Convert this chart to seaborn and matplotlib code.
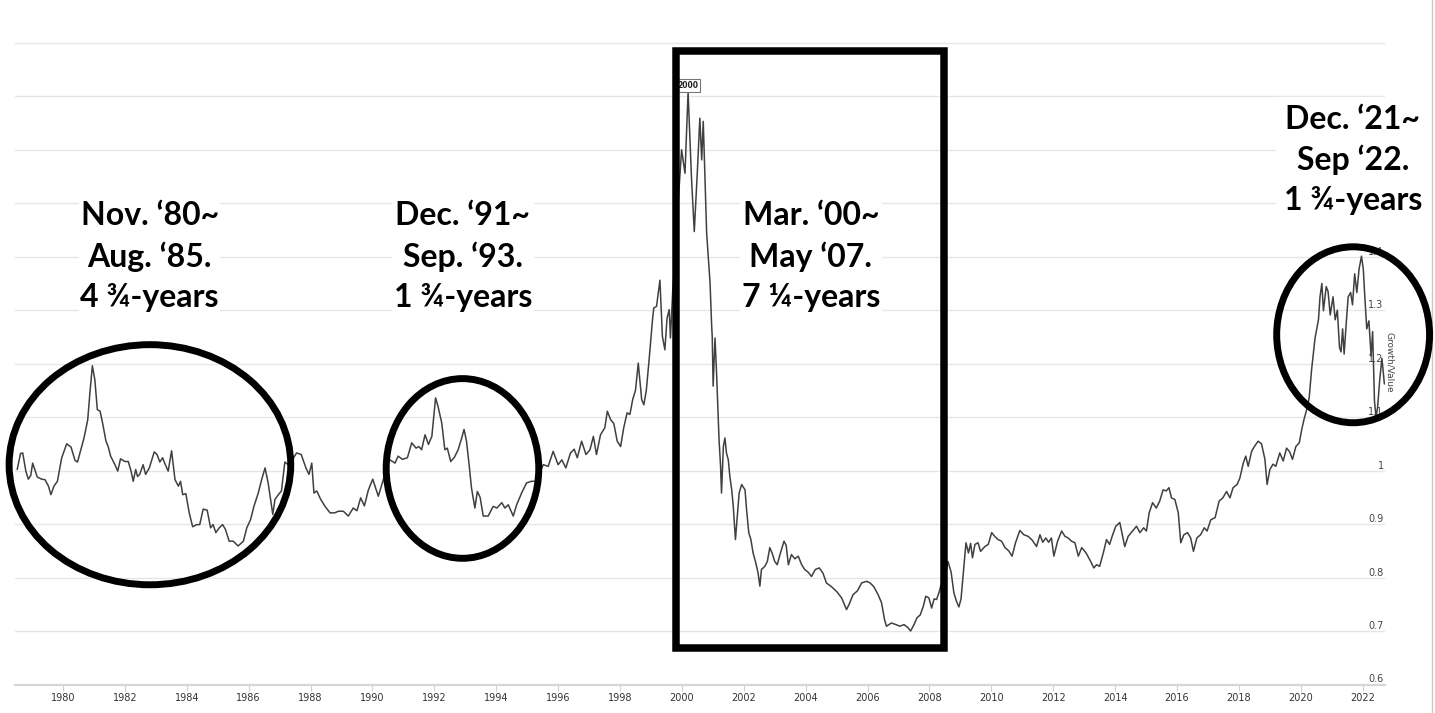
import matplotlib
matplotlib.use("Agg")
import matplotlib.pyplot as plt
from matplotlib.patches import Ellipse, Rectangle
from matplotlib.lines import Line2D
import seaborn as sns
import pandas as pd
import numpy as np

# Growth / Value ratio (decimal years)
years = [
    1978.52, 1978.63, 1978.70, 1978.80, 1978.88, 1978.96, 1979.02, 1979.17, 1979.31, 1979.42,
    1979.53, 1979.61, 1979.71, 1979.82, 1979.96, 1980.12, 1980.26, 1980.39, 1980.47, 1980.55,
    1980.68, 1980.80, 1980.87, 1980.95, 1981.03, 1981.11, 1981.20, 1981.28, 1981.39, 1981.46,
    1981.54, 1981.68, 1981.77, 1981.86, 1982.00, 1982.11, 1982.20, 1982.27, 1982.35, 1982.41,
    1982.48, 1982.59, 1982.67, 1982.79, 1982.95, 1983.04, 1983.13, 1983.22, 1983.30, 1983.40,
    1983.51, 1983.62, 1983.73, 1983.80, 1983.87, 1983.97, 1984.08, 1984.19, 1984.32, 1984.42,
    1984.53, 1984.66, 1984.77, 1984.85, 1984.94, 1985.05, 1985.16, 1985.25, 1985.37, 1985.50,
    1985.66, 1985.83, 1985.94, 1986.06, 1986.17, 1986.31, 1986.42, 1986.53, 1986.63, 1986.78,
    1986.85, 1986.96, 1987.06, 1987.17, 1987.30, 1987.55, 1987.70, 1987.85, 1987.95, 1988.04,
    1988.11, 1988.20, 1988.33, 1988.47, 1988.63, 1988.78, 1988.90, 1989.06, 1989.22, 1989.38,
    1989.50, 1989.62, 1989.74, 1989.87, 1990.01, 1990.19, 1990.35, 1990.54, 1990.73, 1990.83,
    1990.97, 1991.13, 1991.27, 1991.41, 1991.50, 1991.59, 1991.70, 1991.81, 1991.92, 1992.04,
    1992.12, 1992.24, 1992.34, 1992.42, 1992.53, 1992.65, 1992.77, 1992.88, 1992.96, 1993.04,
    1993.13, 1993.20, 1993.31, 1993.39, 1993.48, 1993.58, 1993.74, 1993.90, 1994.02, 1994.18,
    1994.28, 1994.39, 1994.55, 1994.66, 1994.82, 1994.98, 1995.14, 1995.28, 1995.40, 1995.52,
    1995.68, 1995.84, 1996.00, 1996.12, 1996.25, 1996.40, 1996.52, 1996.62, 1996.76, 1996.90,
    1997.03, 1997.14, 1997.24, 1997.37, 1997.51, 1997.59, 1997.70, 1997.80, 1997.91, 1998.02,
    1998.12, 1998.23, 1998.32, 1998.41, 1998.50, 1998.59, 1998.70, 1998.77, 1998.85, 1998.94,
    1999.05, 1999.09, 1999.18, 1999.29, 1999.37, 1999.45, 1999.52, 1999.59, 1999.63, 1999.70,
    1999.80, 1999.90, 1999.99, 2000.10, 2000.20, 2000.31, 2000.40, 2000.50, 2000.58, 2000.64,
    2000.69, 2000.75, 2000.80, 2000.91, 2000.96, 2000.98, 2001.01, 2001.07, 2001.12, 2001.20,
    2001.25, 2001.28, 2001.34, 2001.39, 2001.44, 2001.50, 2001.55, 2001.61, 2001.66, 2001.73,
    2001.79, 2001.85, 2001.93, 2002.04, 2002.09, 2002.16, 2002.23, 2002.30, 2002.39, 2002.46,
    2002.52, 2002.57, 2002.68, 2002.76, 2002.84, 2002.92, 2003.00, 2003.08, 2003.18, 2003.30,
    2003.37, 2003.44, 2003.54, 2003.65, 2003.76, 2003.87, 2003.97, 2004.08, 2004.19, 2004.31,
    2004.44, 2004.56, 2004.67, 2004.83, 2005.00, 2005.16, 2005.32, 2005.42, 2005.53, 2005.67,
    2005.81, 2005.97, 2006.08, 2006.20, 2006.34, 2006.45, 2006.55, 2006.61, 2006.77, 2006.92,
    2007.04, 2007.18, 2007.31, 2007.39, 2007.50, 2007.60, 2007.70, 2007.80, 2007.88, 2007.98,
    2008.07, 2008.15, 2008.23, 2008.32, 2008.39, 2008.50, 2008.60, 2008.70, 2008.79, 2008.87,
    2008.95, 2009.02, 2009.07, 2009.18, 2009.26, 2009.33, 2009.39, 2009.47, 2009.57, 2009.65,
    2009.79, 2009.90, 2010.01, 2010.11, 2010.22, 2010.33, 2010.44, 2010.56, 2010.67, 2010.78,
    2010.92, 2011.05, 2011.19, 2011.32, 2011.46, 2011.57, 2011.66, 2011.76, 2011.85, 2011.94,
    2012.02, 2012.14, 2012.27, 2012.38, 2012.48, 2012.59, 2012.70, 2012.81, 2012.92, 2013.06,
    2013.21, 2013.31, 2013.40, 2013.50, 2013.63, 2013.72, 2013.82, 2013.92, 2014.02, 2014.15,
    2014.23, 2014.31, 2014.42, 2014.56, 2014.69, 2014.80, 2014.92, 2015.01, 2015.10, 2015.21,
    2015.33, 2015.44, 2015.55, 2015.65, 2015.74, 2015.82, 2015.93, 2016.04, 2016.12, 2016.22,
    2016.34, 2016.44, 2016.53, 2016.64, 2016.76, 2016.88, 2016.97, 2017.09, 2017.23, 2017.36,
    2017.48, 2017.60, 2017.71, 2017.81, 2017.94, 2018.03, 2018.14, 2018.22, 2018.30, 2018.41,
    2018.51, 2018.62, 2018.73, 2018.84, 2018.91, 2019.00, 2019.10, 2019.19, 2019.32, 2019.43,
    2019.54, 2019.64, 2019.73, 2019.84, 2019.95, 2020.03, 2020.10, 2020.19, 2020.27, 2020.35,
    2020.46, 2020.57, 2020.62, 2020.68, 2020.73, 2020.82, 2020.88, 2020.95, 2021.04, 2021.11,
    2021.18, 2021.25, 2021.30, 2021.35, 2021.40, 2021.46, 2021.53, 2021.61, 2021.67, 2021.74,
    2021.81, 2021.88, 2021.96, 2022.02, 2022.06, 2022.13, 2022.20, 2022.27, 2022.32, 2022.38,
    2022.43, 2022.48, 2022.55, 2022.62, 2022.70,
]
ratio = [
    1.002, 1.032, 1.033, 0.999, 0.984, 0.991, 1.014, 0.988, 0.984, 0.983,
    0.971, 0.955, 0.971, 0.980, 1.024, 1.050, 1.044, 1.019, 1.016, 1.033,
    1.061, 1.095, 1.145, 1.196, 1.170, 1.114, 1.111, 1.089, 1.055, 1.045,
    1.027, 1.011, 0.999, 1.022, 1.017, 1.017, 0.999, 0.980, 1.002, 0.989,
    0.993, 1.011, 0.993, 1.005, 1.035, 1.030, 1.016, 1.024, 1.012, 0.999,
    1.037, 0.983, 0.971, 0.980, 0.955, 0.957, 0.921, 0.895, 0.899, 0.899,
    0.928, 0.926, 0.893, 0.899, 0.884, 0.893, 0.899, 0.890, 0.868, 0.868,
    0.859, 0.868, 0.893, 0.908, 0.933, 0.958, 0.983, 1.005, 0.977, 0.918,
    0.946, 0.955, 0.962, 1.016, 1.010, 1.033, 1.030, 1.005, 0.993, 1.014,
    0.958, 0.962, 0.946, 0.933, 0.921, 0.921, 0.924, 0.924, 0.915, 0.930,
    0.925, 0.949, 0.934, 0.964, 0.984, 0.952, 0.983, 1.021, 1.014, 1.027,
    1.021, 1.024, 1.052, 1.042, 1.045, 1.039, 1.067, 1.049, 1.064, 1.136,
    1.120, 1.089, 1.039, 1.042, 1.017, 1.025, 1.039, 1.060, 1.077, 1.055,
    1.008, 0.968, 0.930, 0.961, 0.950, 0.915, 0.915, 0.933, 0.930, 0.940,
    0.930, 0.936, 0.915, 0.936, 0.958, 0.977, 0.980, 0.980, 0.995, 1.011,
    1.008, 1.036, 1.011, 1.020, 1.005, 1.033, 1.040, 1.024, 1.055, 1.030,
    1.039, 1.064, 1.030, 1.067, 1.080, 1.111, 1.095, 1.088, 1.055, 1.045,
    1.080, 1.108, 1.105, 1.133, 1.150, 1.201, 1.133, 1.123, 1.150, 1.207,
    1.282, 1.304, 1.307, 1.356, 1.251, 1.226, 1.285, 1.301, 1.248, 1.332,
    1.420, 1.520, 1.600, 1.556, 1.708, 1.547, 1.447, 1.560, 1.659, 1.581,
    1.653, 1.540, 1.444, 1.351, 1.273, 1.251, 1.158, 1.248, 1.183, 1.058,
    1.008, 0.958, 1.045, 1.061, 1.033, 1.020, 0.989, 0.964, 0.933, 0.871,
    0.915, 0.958, 0.974, 0.964, 0.927, 0.884, 0.871, 0.846, 0.827, 0.809,
    0.784, 0.815, 0.821, 0.830, 0.856, 0.845, 0.830, 0.824, 0.845, 0.868,
    0.860, 0.824, 0.843, 0.835, 0.840, 0.824, 0.815, 0.810, 0.802, 0.815,
    0.818, 0.808, 0.790, 0.783, 0.774, 0.762, 0.740, 0.752, 0.768, 0.775,
    0.790, 0.793, 0.790, 0.783, 0.768, 0.753, 0.721, 0.709, 0.715, 0.712,
    0.709, 0.712, 0.706, 0.700, 0.712, 0.725, 0.730, 0.746, 0.765, 0.762,
    0.743, 0.760, 0.759, 0.774, 0.790, 0.800, 0.830, 0.810, 0.771, 0.756,
    0.745, 0.760, 0.793, 0.865, 0.846, 0.864, 0.837, 0.862, 0.865, 0.849,
    0.858, 0.862, 0.884, 0.877, 0.871, 0.868, 0.856, 0.850, 0.840, 0.865,
    0.888, 0.880, 0.877, 0.870, 0.858, 0.880, 0.866, 0.874, 0.866, 0.874,
    0.840, 0.868, 0.887, 0.877, 0.874, 0.868, 0.865, 0.840, 0.856, 0.846,
    0.830, 0.818, 0.824, 0.821, 0.849, 0.871, 0.862, 0.880, 0.896, 0.903,
    0.880, 0.858, 0.877, 0.887, 0.896, 0.884, 0.893, 0.887, 0.921, 0.940,
    0.930, 0.943, 0.964, 0.962, 0.968, 0.949, 0.946, 0.921, 0.865, 0.880,
    0.884, 0.874, 0.849, 0.874, 0.880, 0.893, 0.887, 0.908, 0.912, 0.943,
    0.949, 0.961, 0.949, 0.968, 0.974, 0.986, 1.014, 1.027, 1.008, 1.036,
    1.046, 1.055, 1.050, 1.021, 0.974, 1.002, 1.012, 1.008, 1.033, 1.018,
    1.042, 1.035, 1.021, 1.045, 1.052, 1.077, 1.095, 1.114, 1.136, 1.190,
    1.248, 1.282, 1.325, 1.350, 1.299, 1.344, 1.335, 1.291, 1.325, 1.282,
    1.300, 1.230, 1.222, 1.265, 1.218, 1.270, 1.325, 1.333, 1.310, 1.368,
    1.333, 1.376, 1.401, 1.376, 1.333, 1.265, 1.280, 1.214, 1.260, 1.130,
    1.100, 1.118, 1.170, 1.210, 1.162,
]

x_ticks = list(range(1980, 2023, 2))
y_ticks = [0.6, 0.7, 0.8, 0.9, 1.0, 1.1, 1.2, 1.3, 1.4, 1.5, 1.6, 1.7, 1.8]
y_tick_labels = ["0.6", "0.7", "0.8", "0.9", "1", "1.1", "1.2", "1.3", "1.4", "", "", "", ""]

periods = [
    "Nov. \u201880~\nAug. \u201885.\n4 \u00be-years",
    "Dec. \u201891~\nSep. \u201893.\n1 \u00be-years",
    "Mar. \u201800~\nMay \u201807.\n7 \u00bc-years",
    "Dec. \u201821~\nSep \u201822.\n1 \u00be-years",
]

df = pd.DataFrame({"year": years, "ratio": ratio})

sns.set_style("white")
plt.rcParams["font.family"] = ["DejaVu Sans"]

fig = plt.figure(figsize=(14.35, 7.13), dpi=100)
ax = fig.add_axes([15 / 1435, 1 - 684.5 / 713, 1370 / 1435, 684.5 / 713])

sns.lineplot(data=df, x="year", y="ratio", ax=ax, color="#404040", linewidth=1.1, zorder=3)

ax.set_xlim(1978.45, 2022.72)
ax.set_ylim(0.6, 1.88)
ax.set_xticks(x_ticks)
ax.set_xticklabels([str(y) for y in x_ticks])
ax.set_yticks(y_ticks)
ax.set_yticklabels(y_tick_labels)
ax.grid(axis="y", color="#e6e6e6", linewidth=1)
ax.grid(axis="x", visible=False)
for side in ["top", "left", "right"]:
    ax.spines[side].set_visible(False)
ax.spines["bottom"].set_color("#d6d6d6")
ax.spines["bottom"].set_linewidth(1.6)

ax.tick_params(axis="x", bottom=True, length=4, width=0.8, color="#cfcfcf",
               labelsize=7, labelcolor="#333333", pad=2)
ax.yaxis.tick_right()
ax.tick_params(axis="y", right=False, left=False, length=0, labelsize=7,
               labelcolor="#444444", pad=-1)
for lbl in ax.get_yticklabels():
    lbl.set_horizontalalignment("right")
    lbl.set_verticalalignment("bottom")

ax.set_xlabel("")
ax.yaxis.set_label_position("right")
ax.set_ylabel("Growth/Value", rotation=270, fontsize=6.5, color="#444444")
ax.yaxis.set_label_coords(1.0066, 0.47)

# peak flag
peak_i = int(np.argmax(ratio))
ax.annotate("2000", xy=(years[peak_i], ratio[peak_i]), xytext=(0, 1.5),
            textcoords="offset points", ha="center", va="bottom", fontsize=5.5,
            fontweight="bold", color="#222222", zorder=4,
            bbox=dict(boxstyle="square,pad=0.25", fc="white", ec="#777777", lw=0.8))

# highlight shapes
shape_kw = dict(fill=False, ec="black", lw=5, clip_on=False, zorder=6)
ax.add_patch(Ellipse((1982.81, 1.011), 9.10, 0.449, **shape_kw))
ax.add_patch(Ellipse((1992.91, 1.004), 4.93, 0.336, **shape_kw))
ax.add_patch(Ellipse((2021.69, 1.254), 4.94, 0.329, **shape_kw))
ax.add_patch(Rectangle((1999.82, 0.669), 8.66, 1.115, lw=5.4, fill=False,
                       ec="black", clip_on=False, zorder=6))

# period labels
text_kw = dict(ha="center", va="center", multialignment="center", fontsize=23,
               fontweight="bold", family=["Lato", "DejaVu Sans"], color="black",
               linespacing=1.45, zorder=7, clip_on=False)
ax.text(1982.80, 1.400, periods[0],
        bbox=dict(boxstyle="square,pad=0.05", fc="white", ec="none"), **text_kw)
ax.text(1992.92, 1.400, periods[1],
        bbox=dict(boxstyle="square,pad=0.05", fc="white", ec="none"), **text_kw)
ax.text(2004.17, 1.400, periods[2],
        bbox=dict(boxstyle="square,pad=0.05", fc="white", ec="none"), **text_kw)
ax.text(2021.68, 1.581, periods[3],
        bbox=dict(boxstyle="square,pad=0.25", fc="white", ec="none"), **text_kw)

fig.add_artist(Line2D([1432 / 1435, 1432 / 1435], [0, 1], transform=fig.transFigure,
                      color="#c8c8c8", lw=1, zorder=0))

fig.savefig("out.png", dpi=100, facecolor="white")
